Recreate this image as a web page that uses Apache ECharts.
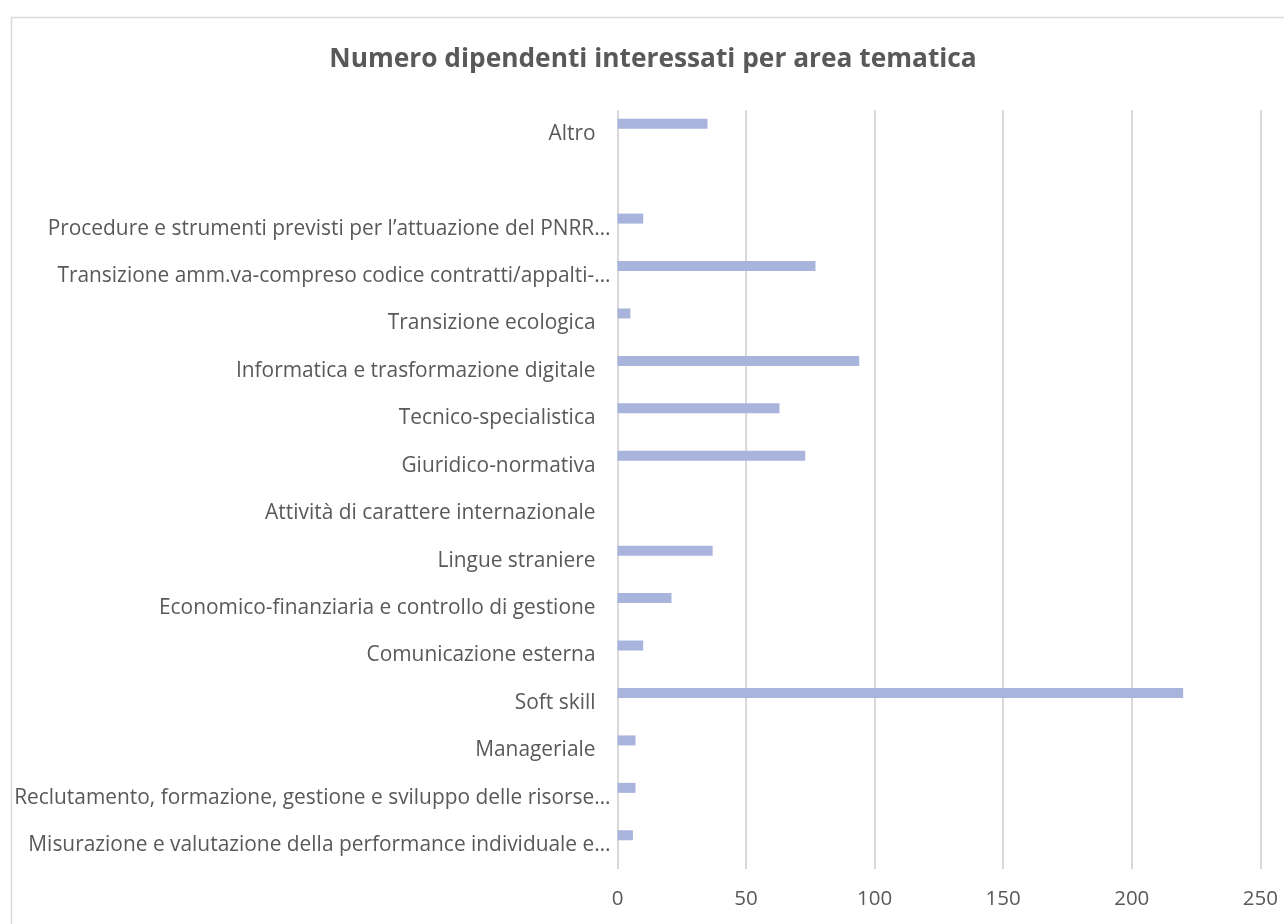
<!DOCTYPE html>
<html>
<head>
<meta charset="utf-8">
<script src="https://cdn.jsdelivr.net/npm/echarts@6/dist/echarts.min.js"></script>
<style>html,body{margin:0;padding:0;background:#fff;}#c{width:1284px;height:924px;}</style>
</head>
<body>
<div id="c"></div>
<script>
// Categories from bottom to top
const categories = [
  'Misurazione e valutazione della performance individuale e…',
  'Reclutamento, formazione, gestione e sviluppo delle risorse…',
  'Manageriale',
  'Soft skill',
  'Comunicazione esterna',
  'Economico-finanziaria e controllo di gestione',
  'Lingue straniere',
  'Attività di carattere internazionale',
  'Giuridico-normativa',
  'Tecnico-specialistica',
  'Informatica e trasformazione digitale',
  'Transizione ecologica',
  'Transizione amm.va-compreso codice contratti/appalti-…',
  'Procedure e strumenti previsti per l’attuazione del PNRR…',
  '',
  'Altro'
];
const values = [6, 7, 7, 220, 10, 21, 37, 0, 73, 63, 94, 5, 77, 10, null, 35];
const xTicks = [0, 50, 100, 150, 200, 250];
const titleText = 'Numero dipendenti interessati per area tematica';

const chart = echarts.init(document.getElementById('c'), null, {renderer: 'canvas'});
const fontFam = '"Open Sans", sans-serif';
chart.setOption({
  animation: false,
  backgroundColor: '#fff',
  graphic: [{
    type: 'rect', left: 9, top: 15, silent: true,
    shape: {width: 1300, height: 1000},
    style: {fill: 'none', stroke: '#d9d9d9', lineWidth: 1.5}
  }],
  title: {
    text: titleText,
    left: 648, top: 42, textAlign: 'center',
    textStyle: {fontFamily: fontFam, fontWeight: 'bold', fontSize: 26.3, color: '#595959'}
  },
  grid: {left: 617.5, right: 23.7, top: 110, bottom: 55, containLabel: false},
  xAxis: {
    type: 'value', min: xTicks[0], max: xTicks[xTicks.length - 1], interval: 50,
    axisLine: {show: false}, axisTick: {show: false},
    splitLine: {show: true, lineStyle: {color: '#d9d9d9', width: 2}},
    axisLabel: {fontFamily: fontFam, fontSize: 20.5, color: '#595959', margin: 20}
  },
  yAxis: {
    type: 'category', data: categories,
    axisLine: {show: false}, axisTick: {show: false},
    axisLabel: {
      interval: 0, margin: 7,
      fontFamily: fontFam, fontSize: 20.9, color: '#595959',
      formatter: function (v) { return v.endsWith('…') ? '{e|' + v + '}' : '{n|' + v + '}'; },
      rich: {
        e: {fontFamily: fontFam, fontSize: 20.9, color: '#595959'},
        n: {fontFamily: fontFam, fontSize: 20.9, color: '#595959', padding: [0, 15, 0, 0]}
      }
    }
  },
  series: [
    {type: 'bar', data: values, barWidth: 10, barGap: '100%', itemStyle: {color: '#a8b4dc'}},
    {type: 'bar', data: categories.map(() => null), barWidth: 10}
  ]
});
</script>
</body>
</html>
